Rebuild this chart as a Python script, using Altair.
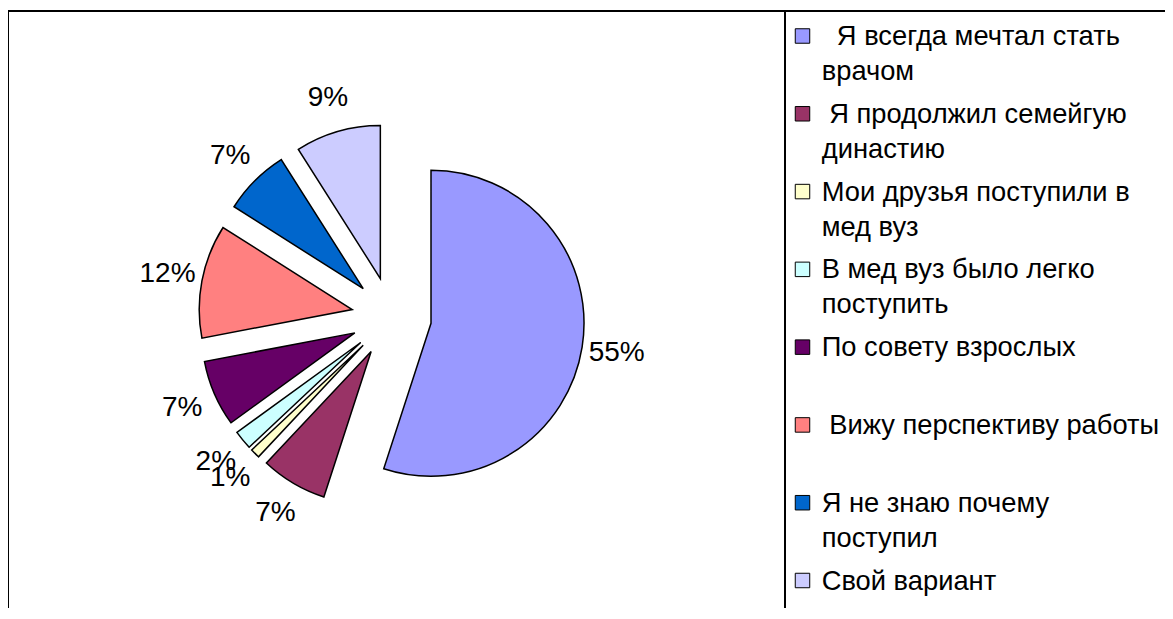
import altair as alt
import pandas as pd

# ---- data ----
# (a zero-width space keeps the leading non-breaking spaces from being trimmed)
categories = [
    "\u200b\u00a0\u00a0Я всегда мечтал стать\nврачом",
    "\u200b\u00a0Я продолжил семейгую\nдинастию",
    "Мои друзья поступили в\nмед вуз",
    "В мед вуз было легко\nпоступить",
    "По совету взрослых",
    "\u200b\u00a0Вижу перспективу работы",
    "Я не знаю почему\nпоступил",
    "Свой вариант",
]
values = [55, 7, 1, 2, 7, 12, 7, 9]
colors = ["#9999FF", "#993366", "#FFFFCC", "#CCFFFF", "#660066", "#FF8080", "#0066CC", "#CCCCFF"]

# ---- layout / style ----
W, H = 1157, 600
CX, CY = 383.5, 309.0   # pie centre (px)
R = 153                 # pie radius
EXPLODE = 40            # explosion distance
LABEL_R = 228           # label distance from centre
FONT = "Liberation Sans"
FS = 28                 # data-label font size
LFS = 27.3              # legend font size

df = pd.DataFrame({
    "cat": categories,
    "value": values,
    "idx": list(range(len(values))),
})

color_scale = alt.Scale(domain=categories, range=colors)

base = (
    alt.Chart(df)
    .transform_window(cum="sum(value)", sort=[alt.SortField("idx")], frame=[None, 0])
    .transform_joinaggregate(total="sum(value)")
    .transform_calculate(t0="2*PI*(datum.cum - datum.value)/datum.total")
    .transform_calculate(t1="2*PI*datum.cum/datum.total")
    .transform_calculate(mid="(datum.t0 + datum.t1)/2")
    .transform_calculate(px=f"{CX} + {EXPLODE}*sin(datum.mid)")
    .transform_calculate(py=f"{CY} - {EXPLODE}*cos(datum.mid)")
    .transform_calculate(lx=f"{CX} + {LABEL_R}*sin(datum.mid)")
    .transform_calculate(ly=f"{CY} - {LABEL_R}*cos(datum.mid)")
    .transform_calculate(pct="datum.value + '%'")
)

arcs = base.mark_arc(outerRadius=R, stroke="black", strokeWidth=1.5).encode(
    theta=alt.Theta("t0:Q", scale=None),
    theta2="t1:Q",
    x=alt.X("px:Q", scale=None),
    y=alt.Y("py:Q", scale=None),
    color=alt.Color("cat:N", scale=color_scale, legend=None),
)

labels = base.mark_text(font=FONT, fontSize=FS, color="black").encode(
    x=alt.X("lx:Q", scale=None),
    y=alt.Y("ly:Q", scale=None),
    text="pct:N",
)

leg_y = alt.Y("idx:Q", scale=alt.Scale(domain=[0, 7], range=[28, 572.5]), axis=None)

leg_sq = alt.Chart(df).mark_square(size=210, stroke="black", strokeWidth=1, opacity=1).encode(
    x=alt.value(794.5),
    y=leg_y,
    color=alt.Color("cat:N", scale=color_scale, legend=None),
)

leg_txt = alt.Chart(df).mark_text(
    font=FONT, fontSize=LFS, align="left", baseline="alphabetic", dy=9, lineBreak="\n", lineHeight=35, color="black"
).encode(
    x=alt.value(813.7),
    y=leg_y,
    text="cat:N",
)

frame_df = pd.DataFrame({"k": [0]})
top_line = alt.Chart(frame_df).mark_rule(color="black", strokeWidth=2).encode(
    x=alt.value(0), x2=alt.value(W), y=alt.value(3)
)
left_line = alt.Chart(frame_df).mark_rule(color="black", strokeWidth=2).encode(
    x=alt.value(0), y=alt.value(3), y2=alt.value(H)
)
sep_line = alt.Chart(frame_df).mark_rule(color="black", strokeWidth=2).encode(
    x=alt.value(777), y=alt.value(3), y2=alt.value(H)
)

pie = alt.layer(arcs, labels)
legend = alt.layer(leg_sq, leg_txt)

chart = (
    alt.layer(pie, legend, top_line, left_line, sep_line)
    .resolve_scale(x="independent", y="independent", color="shared")
    .properties(width=W, height=H, padding=0, autosize=alt.AutoSizeParams(type="none"))
    .configure_view(stroke=None)
)

chart.save("out.html", embed_options={"renderer": "svg", "actions": False})
